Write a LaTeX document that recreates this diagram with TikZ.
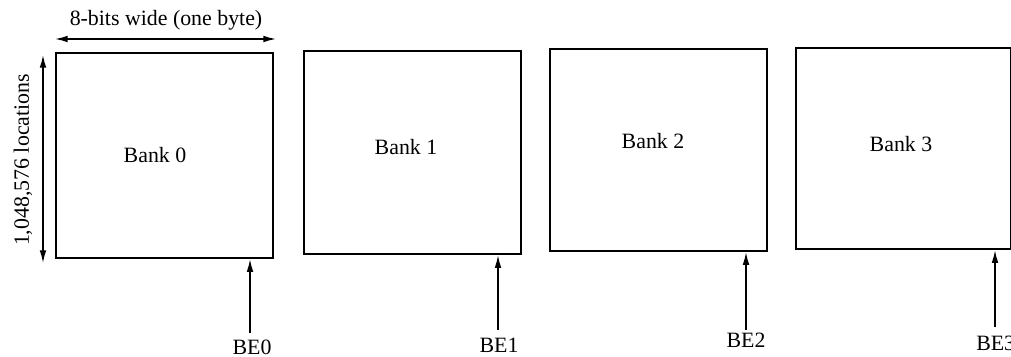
\documentclass[tikz,border=0pt]{standalone}
\usepackage{fontspec}
\setmainfont{Liberation Serif}
\usetikzlibrary{arrows.meta}
\begin{document}
\begin{tikzpicture}[x=0.75pt,y=-0.75pt,
  bankbox/.style={draw,line width=1.6pt,inner sep=0pt,anchor=north west},
  txt/.style={inner sep=0pt,font=\fontsize{16.4}{19}\selectfont},
  sig/.style={line width=1.1pt,-{Latex[length=9.5pt,width=5pt]}},
  dim/.style={line width=1.1pt,{Latex[length=9.5pt,width=5pt]}-{Latex[length=9.5pt,width=5pt]}}]
\useasboundingbox (0,0) rectangle (1011,357);

% memory banks
\node[bankbox,minimum width=217*0.75pt,minimum height=205*0.75pt] (b0) at (55,52) {};
\node[bankbox,minimum width=217*0.75pt,minimum height=203*0.75pt] (b1) at (303,50) {};
\node[bankbox,minimum width=217*0.75pt,minimum height=202*0.75pt] (b2) at (549,48) {};
\node[bankbox,minimum width=215*0.75pt,minimum height=201*0.75pt] (b3) at (795,47) {};

\node[txt] (l0) at (155,155) {Bank 0};
\node[txt] (l1) at (406,147) {Bank 1};
\node[txt] (l2) at (653,141) {Bank 2};
\node[txt] (l3) at (901,144) {Bank 3};

% dimensions of one bank
\coordinate (wl) at (55,39);
\coordinate (wr) at (276,39);
\draw[dim] (wl) -- (wr);
\node[txt] (wlab) at (166,20) {8-bits wide (one byte)};

\coordinate (ht) at (43,55);
\coordinate (hb) at (43,263);
\draw[dim] (ht) -- (hb);
\node[txt,rotate=90] (hlab) at (23,160) {1,048,576 locations};

% byte enable inputs
\coordinate (e0) at (250,333);
\coordinate (e1) at (498,330);
\coordinate (e2) at (746,330);
\coordinate (e3) at (995,327);
\draw[sig] (e0) -- (e0 |- b0.south);
\draw[sig] (e1) -- (e1 |- b1.south);
\draw[sig] (e2) -- (e2 |- b2.south);
\draw[sig] (e3) -- (e3 |- b3.south);

\node[txt] (s0) at (252,347) {BE0};
\node[txt] (s1) at (499,345) {BE1};
\node[txt] (s2) at (746,340) {BE2};
\node[txt,anchor=west] (s3) at (976,343) {BE3};
\end{tikzpicture}
\end{document}
